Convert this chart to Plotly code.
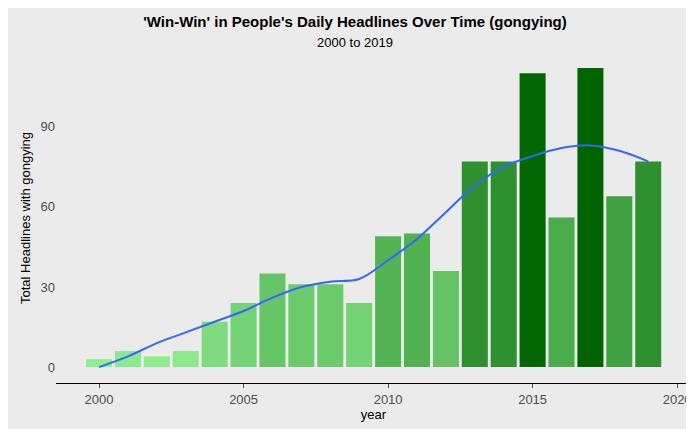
import plotly.graph_objects as go

years = list(range(2000, 2020))
counts = [3, 6, 4, 6, 17, 24, 35, 31, 31, 24, 49, 50, 36, 77, 77, 110, 56, 112, 64, 77]
smooth = [0, 4, 9, 13, 17, 21, 26, 30, 32, 33, 40, 48, 58, 68, 75, 79, 82, 83, 81, 77]

fig = go.Figure()
fig.add_trace(go.Bar(x=years, y=counts, width=0.9,
    marker=dict(color=counts, colorscale=[[0, "#90EE90"], [1, "#006400"]], line=dict(width=0))))
fig.add_trace(go.Scatter(x=years, y=smooth, mode="lines", line=dict(color="#3366FF", width=2, shape="spline")))

fig.update_layout(
    width=694, height=429, showlegend=False,
    paper_bgcolor="#EBEBEB", plot_bgcolor="#EBEBEB",
    margin=dict(l=48, r=11, t=45, b=54),
    font=dict(family="Liberation Sans, Arial", size=13, color="#4D4D4D"),
    title=dict(text="<b>'Win-Win' in People's Daily Headlines Over Time (gongying)</b><br><span style='font-size:13px'>2000 to 2019</span>",
               x=0.5, xanchor="center", y=0.955, yanchor="top", font=dict(size=15, color="black")),
    xaxis=dict(range=[1998.51, 2020.48], tickvals=[2000, 2005, 2010, 2015, 2020], showgrid=False, zeroline=False,
               showline=True, linecolor="black", linewidth=1, ticks="outside", ticklen=4, tickcolor="#4D4D4D",
               automargin=False,
               title=dict(text="year", font=dict(color="black", size=13), standoff=4)),
    yaxis=dict(range=[-5.95, 117.6], tickvals=[0, 30, 60, 90], showgrid=False, zeroline=False, showline=False,
               automargin=False,
               title=dict(text="Total Headlines with gongying", font=dict(color="black", size=13), standoff=6)),
)
fig.write_html("out.html")
